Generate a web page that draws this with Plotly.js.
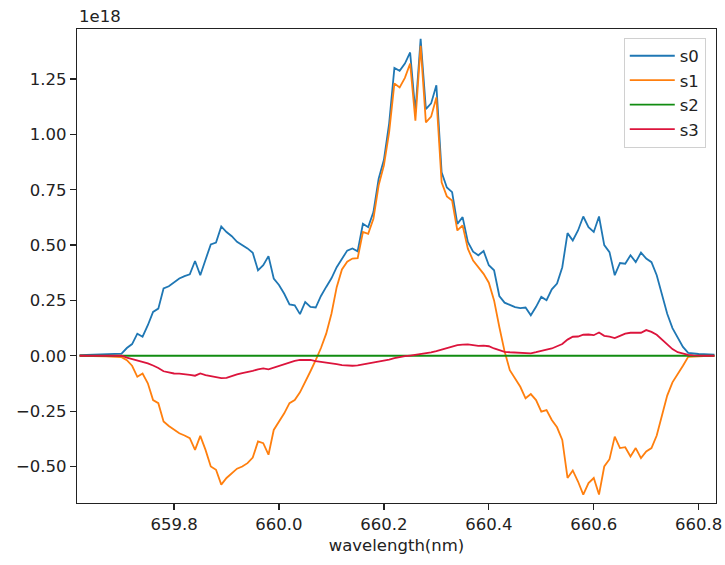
<!DOCTYPE html>
<html>
<head>
<meta charset="utf-8">
<script src="https://cdn.plot.ly/plotly-3.0.1.min.js"></script>
<style>
html,body{margin:0;padding:0;background:#fff;}
#chart{width:725px;height:565px;}
</style>
</head>
<body>
<div id="chart"></div>
<script>
// wavelength (nm)
const wavelength = [
659.62,659.63,659.64,659.65,659.66,659.67,659.68,659.69,659.70,659.71,
659.72,659.73,659.74,659.75,659.76,659.77,659.78,659.79,659.80,659.81,
659.82,659.83,659.84,659.85,659.86,659.87,659.88,659.89,659.90,659.91,
659.92,659.93,659.94,659.95,659.96,659.97,659.98,659.99,660.00,660.01,
660.02,660.03,660.04,660.05,660.06,660.07,660.08,660.09,660.10,660.11,
660.12,660.13,660.14,660.15,660.16,660.17,660.18,660.19,660.20,660.21,
660.22,660.23,660.24,660.25,660.26,660.27,660.28,660.29,660.30,660.31,
660.32,660.33,660.34,660.35,660.36,660.37,660.38,660.39,660.40,660.41,
660.42,660.43,660.44,660.45,660.46,660.47,660.48,660.49,660.50,660.51,
660.52,660.53,660.54,660.55,660.56,660.57,660.58,660.59,660.60,660.61,
660.62,660.63,660.64,660.65,660.66,660.67,660.68,660.69,660.70,660.71,
660.72,660.73,660.74,660.75,660.76,660.77,660.78,660.79,660.80,660.81,
660.82,660.83
];

// values in units of 1e18
const s0 = [
0.003,0.004,0.005,0.006,0.006,0.007,0.008,0.008,0.010,0.035,
0.053,0.100,0.086,0.138,0.198,0.213,0.304,0.314,0.333,0.349,
0.360,0.368,0.428,0.364,0.434,0.503,0.511,0.584,0.559,0.540,
0.515,0.500,0.485,0.465,0.386,0.409,0.450,0.349,0.320,0.280,
0.232,0.228,0.188,0.243,0.221,0.218,0.270,0.311,0.350,0.400,
0.440,0.475,0.485,0.472,0.596,0.581,0.649,0.800,0.885,1.050,
1.300,1.287,1.320,1.370,1.100,1.432,1.114,1.140,1.222,0.829,
0.760,0.739,0.596,0.626,0.514,0.470,0.454,0.473,0.409,0.386,
0.270,0.240,0.230,0.220,0.215,0.218,0.183,0.221,0.266,0.251,
0.300,0.326,0.400,0.554,0.521,0.566,0.629,0.581,0.559,0.629,
0.500,0.468,0.364,0.419,0.416,0.454,0.423,0.466,0.439,0.423,
0.364,0.273,0.190,0.125,0.080,0.040,0.013,0.009,0.008,0.007,
0.006,0.005
];

const s1 = [
0.000,0.000,-0.001,-0.002,-0.002,-0.003,-0.004,-0.005,-0.006,-0.020,
-0.045,-0.095,-0.080,-0.124,-0.200,-0.214,-0.297,-0.317,-0.335,-0.350,
-0.360,-0.372,-0.425,-0.362,-0.425,-0.500,-0.515,-0.582,-0.552,-0.530,
-0.510,-0.500,-0.485,-0.460,-0.387,-0.395,-0.447,-0.335,-0.300,-0.260,
-0.214,-0.200,-0.165,-0.120,-0.070,-0.020,0.035,0.100,0.190,0.310,
0.390,0.425,0.439,0.441,0.559,0.551,0.619,0.770,0.860,1.010,
1.230,1.212,1.255,1.320,1.062,1.400,1.054,1.080,1.167,0.784,
0.720,0.701,0.566,0.589,0.484,0.430,0.400,0.370,0.330,0.250,
0.130,0.020,-0.065,-0.104,-0.140,-0.192,-0.173,-0.200,-0.252,-0.245,
-0.290,-0.323,-0.380,-0.552,-0.518,-0.568,-0.627,-0.575,-0.552,-0.627,
-0.500,-0.467,-0.365,-0.417,-0.413,-0.455,-0.417,-0.462,-0.432,-0.417,
-0.360,-0.270,-0.180,-0.120,-0.085,-0.045,-0.005,-0.003,-0.002,-0.002,
-0.001,-0.001
];

const s2 = [
0,0,0,0,0,0,0,0,0,0,
0,0,0,0,0,0,0,0,0,0,
0,0,0,0,0,0,0,0,0,0,
0,0,0,0,0,0,0,0,0,0,
0,0,0,0,0,0,0,0,0,0,
0,0,0,0,0,0,0,0,0,0,
0,0,0,0,0,0,0,0,0,0,
0,0,0,0,0,0,0,0,0,0,
0,0,0,0,0,0,0,0,0,0,
0,0,0,0,0,0,0,0,0,0,
0,0,0,0,0,0,0,0,0,0,
0,0,0,0,0,0,0,0,0,0,
0,0
];

const s3 = [
0.000,0.000,0.000,0.000,0.000,0.000,0.000,0.000,0.000,-0.008,
-0.014,-0.020,-0.026,-0.034,-0.044,-0.055,-0.070,-0.076,-0.080,-0.081,
-0.082,-0.086,-0.090,-0.080,-0.087,-0.092,-0.097,-0.101,-0.100,-0.091,
-0.084,-0.078,-0.074,-0.068,-0.061,-0.057,-0.061,-0.053,-0.044,-0.036,
-0.028,-0.023,-0.019,-0.019,-0.019,-0.024,-0.027,-0.030,-0.032,-0.038,
-0.042,-0.044,-0.045,-0.043,-0.039,-0.035,-0.030,-0.026,-0.021,-0.017,
-0.011,-0.005,-0.002,0.001,0.004,0.007,0.010,0.015,0.021,0.028,
0.036,0.042,0.048,0.050,0.051,0.048,0.045,0.046,0.043,0.033,
0.024,0.018,0.016,0.014,0.013,0.012,0.011,0.016,0.022,0.027,
0.033,0.043,0.053,0.073,0.086,0.087,0.095,0.096,0.093,0.105,
0.090,0.086,0.080,0.090,0.100,0.104,0.105,0.104,0.116,0.108,
0.095,0.073,0.050,0.030,0.016,0.009,0.004,0.002,0.000,0.000,
0.000,0.000
];

const seriesNames = ['s0','s1','s2','s3'];
const seriesColors = ['#1f77b4','#ff7f0e','#118c11','#dc143c'];
const seriesData = [s0, s1, s2, s3];

const xTicks = [659.8, 660.0, 660.2, 660.4, 660.6, 660.8];
const yTicks = [-0.50, -0.25, 0.00, 0.25, 0.50, 0.75, 1.00, 1.25];

const FONT = 'DejaVu Sans, sans-serif';

const traces = seriesData.map((d, i) => ({
  type: 'scatter',
  mode: 'lines',
  name: seriesNames[i],
  x: wavelength,
  y: d,
  line: {color: seriesColors[i], width: 1.8},
  hoverinfo: 'none'
}));

const axisCommon = {
  showgrid: false,
  zeroline: false,
  showline: true,
  linecolor: '#222',
  linewidth: 1.2,
  mirror: true,
  ticks: 'outside',
  ticklen: 6,
  tickwidth: 1.2,
  tickcolor: '#222',
  tickfont: {family: FONT, size: 16.5, color: '#222'}
};

const layout = {
  width: 725,
  height: 565,
  margin: {l: 77, r: 9, t: 29, b: 62},
  paper_bgcolor: '#fff',
  plot_bgcolor: '#fff',
  showlegend: true,
  font: {family: FONT, size: 16.5, color: '#222'},
  xaxis: Object.assign({}, axisCommon, {
    range: [659.615, 660.833],
    tickvals: xTicks,
    tickformat: '.1f',
    title: {text: 'wavelength(nm)', font: {family: FONT, size: 16.5, color: '#222'}, standoff: 6},
    automargin: false
  }),
  yaxis: Object.assign({}, axisCommon, {
    range: [-0.665, 1.476],
    tickvals: yTicks,
    tickformat: '.2f',
    automargin: false
  }),
  legend: {
    x: 0.984, y: 0.982, xanchor: 'right', yanchor: 'top',
    bgcolor: 'rgba(255,255,255,0.8)',
    bordercolor: '#d0d0d0', borderwidth: 1,
    font: {family: FONT, size: 16.5, color: '#222'},
    itemwidth: 45,
    tracegroupgap: 0
  },
  annotations: [{
    xref: 'paper', yref: 'paper', x: 0, y: 1,
    xanchor: 'left', yanchor: 'bottom', yshift: 1,
    text: '1e18', showarrow: false,
    font: {family: FONT, size: 16.5, color: '#222'}
  }]
};

Plotly.newPlot('chart', traces, layout, {staticPlot: true, displayModeBar: false});
</script>
</body>
</html>
